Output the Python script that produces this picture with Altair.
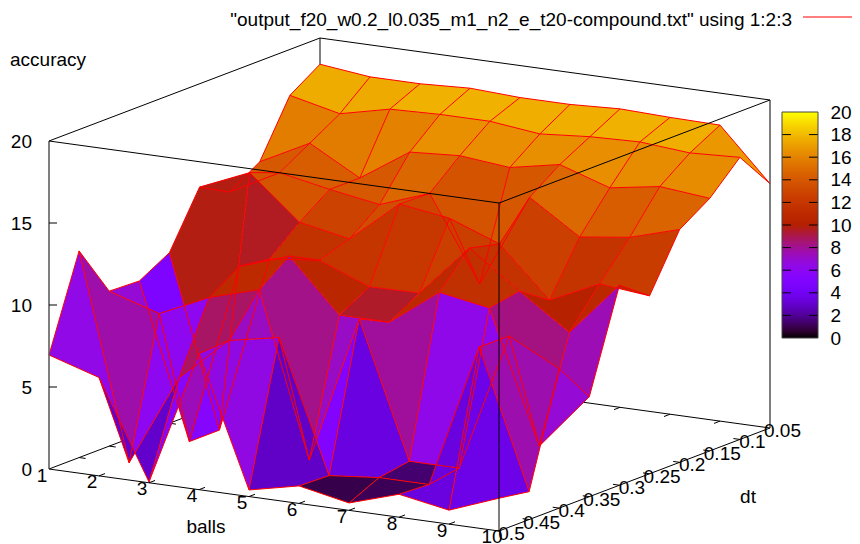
import math
import altair as alt

balls = [1, 2, 3, 4, 5, 6, 7, 8, 9, 10]
dts = [0.5, 0.45, 0.4, 0.35, 0.3, 0.25, 0.2, 0.15, 0.1, 0.05]
dt_labels = ["0.5", "0.45", "0.4", "0.35", "0.3", "0.25", "0.2", "0.15", "0.1", "0.05"]
acc_050 = [6.95, 6.0, 0.05, 8.3, 0.4, 1.07, 0.45, 1.4, 0.85, 2.0]
acc_045 = [12.6, 0.1, 5.7, 8.4, 9.0, 1.0, 1.3, 1.3, 10.1, 1.7]
acc_040 = [9.45, 8.5, 9.9, 10.8, 0.83, 9.85, 1.6, 1.6, 10.07, 8.5]
acc_035 = [9.37, 0.0, 11.1, 12.15, 8.97, 8.96, 11.2, 10.67, 2.67, 6.1]
acc_030 = [10.4, 0.0, 10.85, 11.2, 10.0, 10.04, 13.2, 11.0, 8.9, 12.2]
acc_025 = [13.7, 15.0, 12.4, 11.8, 14.35, 13.9, 12.75, 9.75, 11.16, 10.85]
acc_020 = [12.7, 14.3, 13.7, 13.2, 14.3, 9.2, 14.9, 12.9, 13.3, 14.2]
acc_015 = [13.85, 15.4, 13.7, 15.7, 15.9, 15.6, 16.2, 15.2, 15.7, 15.4]
acc_010 = [17.2, 16.5, 17.2, 17.3, 17.3, 16.95, 17.2, 17.3, 17.05, 17.2]
acc_005 = [18.4, 18.05, 18.05, 18.2, 18.05, 18.05, 18.2, 18.1, 18.05, 14.9]
accuracy = [acc_050, acc_045, acc_040, acc_035, acc_030, acc_025, acc_020, acc_015, acc_010, acc_005]
z_ticks = [0, 5, 10, 15, 20]
cb_ticks = list(range(0, 21, 2))
legend_title = '"output_f20_w0.2_l0.035_m1_n2_e_t20-compound.txt" using 1:2:3'

FONT = "Liberation Sans"
FS = 19
M = 8  # page margin


def proj(b, dt, z):
    """Parallel view used by the 3D box."""
    u = (b - 1) / 9
    t = (0.5 - dt) / 0.45
    return (49 + 450 * u + 271 * t - M, 469 + 62 * u - 103 * t - 16.4 * z - M)


def seg(p, q, **kw):
    d = dict(x=p[0], y=p[1], x2=q[0], y2=q[1])
    d.update(kw)
    return d


def palette(z):
    g = max(0, min(1, z / 20))
    r = math.sqrt(g)
    gg = g ** 3
    b = max(0, math.sin(2 * math.pi * g))
    return "#%02x%02x%02x" % (round(r * 255), round(gg * 255), round(b * 255))


stops = [i / 2 for i in range(41)]
color_scale = alt.Scale(domain=stops, range=[palette(s) for s in stops], interpolate="rgb")
X = alt.X("x:Q", scale=None, axis=None)
Y = alt.Y("y:Q", scale=None, axis=None)
X2 = alt.X2("x2:Q")
Y2 = alt.Y2("y2:Q")


def rules(rows, color, width):
    return alt.Chart(alt.Data(values=rows)).mark_rule(color=color, strokeWidth=width).encode(
        x=X, y=Y, x2=X2, y2=Y2)


def texts(rows, align="center", size=FS):
    return alt.Chart(alt.Data(values=rows)).mark_text(
        align=align, baseline="middle", font=FONT, fontSize=size, color="#000000"
    ).encode(x=X, y=Y, text="t:N")


# filled quads, back to front
features = []
for j in range(8, -1, -1):
    for i in range(9):
        corners = [(i, j), (i + 1, j), (i + 1, j + 1), (i, j + 1)]
        ring = [list(proj(balls[a], dts[c], accuracy[c][a])) for a, c in corners]
        ring.append(ring[0])
        mean = sum(accuracy[c][a] for a, c in corners) / 4
        features.append({"type": "Feature", "properties": {"level": mean},
                         "geometry": {"type": "Polygon", "coordinates": [ring]}})

surface = alt.Chart(alt.Data(values=features)).mark_geoshape(strokeWidth=0).encode(
    color=alt.Color("properties.level:Q", scale=color_scale, legend=None)
).project(type="identity", scale=1, translate=[0, 0])

# wires on top of every fill
wires = []
for j in range(10):
    for i in range(10):
        p = proj(balls[i], dts[j], accuracy[j][i])
        if i < 9:
            wires.append(seg(p, proj(balls[i + 1], dts[j], accuracy[j][i + 1])))
        if j < 9:
            wires.append(seg(p, proj(balls[i], dts[j + 1], accuracy[j + 1][i])))

bmin, bmax, dfront, dback = 1, 10, 0.5, 0.05
back_lines = [
    seg(proj(bmin, dfront, 0), proj(bmin, dback, 0)),
    seg(proj(bmin, dback, 0), proj(bmax, dback, 0)),
    seg(proj(bmin, dback, 0), proj(bmin, dback, 20)),
]
top_back = [
    seg(proj(bmin, dfront, 20), proj(bmin, dback, 20)),
    seg(proj(bmin, dback, 20), proj(bmax, dback, 20)),
]
front_lines = [
    seg(proj(bmin, dfront, 0), proj(bmax, dfront, 0)),
    seg(proj(bmax, dfront, 0), proj(bmax, dback, 0)),
    seg(proj(bmax, dfront, 0), proj(bmax, dfront, 20)),
    seg(proj(bmin, dfront, 20), proj(bmax, dfront, 20)),
    seg(proj(bmax, dfront, 20), proj(bmax, dback, 20)),
]
gray_lines = [
    seg(proj(bmin, dfront, 0), proj(bmin, dfront, 20)),
    seg(proj(bmax, dback, 0), proj(bmax, dback, 20)),
]

# ticks
tx = []
dt_step = (6.0, -2.3)
b_step = (6.5, 0.9)
for b in balls[1:-1]:
    p = proj(b, dfront, 0)
    tx.append(seg(p, (p[0] + dt_step[0], p[1] + dt_step[1])))
    q = proj(b, dback, 0)
    back_lines.append(seg(q, (q[0] - dt_step[0], q[1] - dt_step[1])))
for d in dts[1:-1]:
    p = proj(bmax, d, 0)
    tx.append(seg(p, (p[0] - b_step[0], p[1] - b_step[1])))
    q = proj(bmin, d, 0)
    back_lines.append(seg(q, (q[0] + b_step[0], q[1] + b_step[1])))
for z in z_ticks[1:-1]:
    p = proj(bmin, dfront, z)
    tx.append(seg(p, (p[0] + 8, p[1])))

# colour box: one strip per pixel row
cb_x0, cb_x1, cb_y0, cb_y1 = 782 - M, 818 - M, 338 - M, 112 - M
cb_y = lambda v: cb_y0 + (cb_y1 - cb_y0) * v / 20
cb_n = cb_y0 - cb_y1
cb_rows = [dict(x=cb_x0, x2=cb_x1, y=cb_y0 - k, y2=cb_y0 - k - 1, level=(k + 0.5) * 20 / cb_n)
           for k in range(cb_n)]
cbar = alt.Chart(alt.Data(values=cb_rows)).mark_rect().encode(
    x=X, x2=X2, y=Y, y2=Y2, color=alt.Color("level:Q", scale=color_scale, legend=None))
cb_lines = []
for v in cb_ticks[1:-1]:
    cb_lines.append(seg((cb_x0, cb_y(v)), (cb_x0 + 9, cb_y(v))))
    cb_lines.append(seg((cb_x1 - 9, cb_y(v)), (cb_x1, cb_y(v))))
cb_frame = [
    seg((cb_x0, cb_y0), (cb_x1, cb_y0)), seg((cb_x1, cb_y0), (cb_x1, cb_y1)),
    seg((cb_x1, cb_y1), (cb_x0, cb_y1)), seg((cb_x0, cb_y1), (cb_x0, cb_y0)),
]

# texts
z_labs = [dict(x=32 - M, y=proj(bmin, dfront, z)[1] + 0.5, t=str(z)) for z in z_ticks]
b_labs = []
for b in balls:
    p = proj(b, dfront, 0)
    b_labs.append(dict(x=p[0] - 7, y=min(p[1] + 6.5, 528.5), t=str(b)))
d_labs = []
for d, lab in zip(dts, dt_labels):
    p = proj(bmax, d, 0)
    d_labs.append(dict(x=p[0] + 12.5, y=p[1] + 3, t=lab))
other = [dict(x=206 - M, y=527 - M, t="balls"), dict(x=748 - M, y=497 - M, t="dt")]
acc_lab = [dict(x=10 - M, y=60 - M, t="accuracy")]
leg_lab = [dict(x=792 - M, y=20 - M, t=legend_title)]
cb_labs = [dict(x=830.5 - M, y=cb_y(v) + 0.5, t=str(v)) for v in cb_ticks]

chart = alt.layer(
    rules(back_lines, "#000000", 1),
    surface,
    rules(wires, "#ff0000", 1),
    rules(top_back, "#000000", 1),
    rules(gray_lines, "#555555", 1.5),
    rules(front_lines + tx, "#000000", 1),
    cbar,
    rules(cb_lines, "#000000", 1),
    rules(cb_frame, "#444444", 1),
    rules([seg((803 - M, 17 - M), (858 - M, 17 - M))], "#ff0000", 1),
    texts(z_labs, "right"),
    texts(b_labs),
    texts(d_labs),
    texts(other),
    texts(acc_lab, "left"),
    texts(leg_lab, "right"),
    texts(cb_labs, "left"),
).properties(width=844, height=536, padding=0, background="white",
             autosize=alt.AutoSizeParams(type="none")).configure_view(stroke=None)

chart.save("out.html", embed_options={"renderer": "svg", "actions": False})
